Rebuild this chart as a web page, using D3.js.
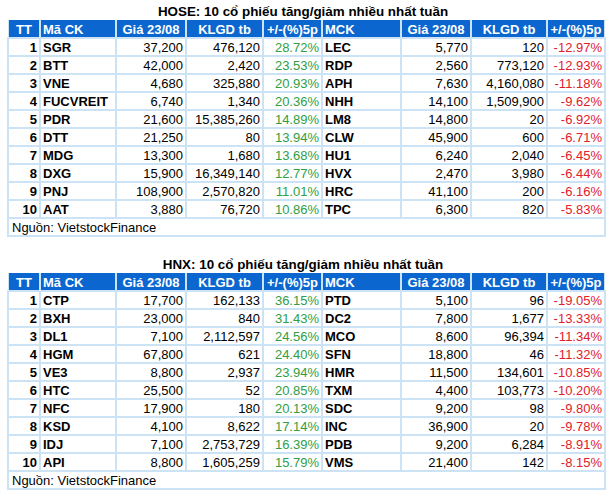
<!DOCTYPE html>
<html>
<head>
<meta charset="utf-8">
<script src="https://cdn.jsdelivr.net/npm/d3@7"></script>
<style>
  html, body { margin: 0; padding: 0; background: #fff; }
  svg { display: block; font-family: Arial, "Liberation Sans", sans-serif; }
</style>
</head>
<body>
<svg id="chart" width="612" height="497"></svg>
<script>
// ---------- DATA ----------
const headers = ["TT", "Mã CK", "Giá 23/08", "KLGD tb", "+/-(%)5p", "MCK", "Giá 23/08", "KLGD tb", "+/-(%)5p"];
const ranks = [1, 2, 3, 4, 5, 6, 7, 8, 9, 10];

const hoseTitle = "HOSE: 10 cổ phiếu tăng/giảm nhiều nhất tuần";
const hoseUpCodes = ["SGR", "BTT", "VNE", "FUCVREIT", "PDR", "DTT", "MDG", "DXG", "PNJ", "AAT"];
const hoseUpPrice = [37200, 42000, 4680, 6740, 21600, 21250, 13300, 15900, 108900, 3880];
const hoseUpVol = [476120, 2420, 325880, 1340, 15385260, 80, 1680, 16349140, 2570820, 76720];
const hoseUpPct = [28.72, 23.53, 20.93, 20.36, 14.89, 13.94, 13.68, 12.77, 11.01, 10.86];
const hoseDownCodes = ["LEC", "RDP", "APH", "NHH", "LM8", "CLW", "HU1", "HVX", "HRC", "TPC"];
const hoseDownPrice = [5770, 2560, 7630, 14100, 14800, 45900, 6240, 2470, 41100, 6300];
const hoseDownVol = [120, 773120, 4160080, 1509900, 20, 600, 2040, 3980, 200, 820];
const hoseDownPct = [-12.97, -12.93, -11.18, -9.62, -6.92, -6.71, -6.45, -6.44, -6.16, -5.83];

const hnxTitle = "HNX: 10 cổ phiếu tăng/giảm nhiều nhất tuần";
const hnxUpCodes = ["CTP", "BXH", "DL1", "HGM", "VE3", "HTC", "NFC", "KSD", "IDJ", "API"];
const hnxUpPrice = [17700, 23000, 7100, 67800, 8800, 25500, 17900, 4100, 7100, 8800];
const hnxUpVol = [162133, 840, 2112597, 621, 2937, 52, 180, 8622, 2753729, 1605259];
const hnxUpPct = [36.15, 31.43, 24.56, 24.40, 23.94, 20.85, 20.13, 17.14, 16.39, 15.79];
const hnxDownCodes = ["PTD", "DC2", "MCO", "SFN", "HMR", "TXM", "SDC", "INC", "PDB", "VMS"];
const hnxDownPrice = [5100, 7800, 8600, 18800, 11500, 4400, 9200, 36900, 9200, 21400];
const hnxDownVol = [96, 1677, 96394, 46, 134601, 103773, 98, 20, 6284, 142];
const hnxDownPct = [-19.05, -13.33, -11.34, -11.32, -10.85, -10.20, -9.80, -9.78, -8.91, -8.15];

const sourceText = "Nguồn: VietstockFinance";

// ---------- LAYOUT ----------
const W = 612, H = 497;
const colEdges = [8, 40, 116, 186, 263, 322, 401, 471, 547, 605];
const colAlign = ["end", "start", "end", "end", "end", "start", "end", "end", "end"];
const colBold = [true, true, false, false, false, true, false, false, false];
const headAlign = ["middle", "start", "middle", "middle", "middle", "start", "middle", "middle", "middle"];
const C = {
  head: "#0b67cf",
  grid: "#cce3f6",
  green: "#2f9e45",
  red: "#e0202b",
  text: "#000"
};
const locale = d3.formatLocale({ decimal: ".", thousands: ",", grouping: [3], currency: ["", ""], minus: "-" });
const fmtInt = locale.format(",");
const fmtPct = d => locale.format(".2f")(d) + "%";

const svg = d3.select("#chart");
svg.append("rect").attr("width", W).attr("height", H).attr("fill", "#fff");

const colIdx = d3.range(headers.length);
const xLeft = d3.scaleOrdinal().domain(colIdx).range(colEdges.slice(0, -1));
const xRight = d3.scaleOrdinal().domain(colIdx).range(colEdges.slice(1));

function drawTable(top, title, up, down) {
  const g = svg.append("g");
  const rowH = 18;
  // rows: 0 = header, 1..10 = data, 11 = footer
  const y = d3.scaleBand().domain(d3.range(12)).range([top, top + 12 * rowH]).padding(0);

  // title
  g.append("text")
    .attr("x", 303)
    .attr("y", top - 4)
    .attr("text-anchor", "middle")
    .attr("font-size", 13.4).attr("font-weight", "bold").attr("fill", C.text)
    .text(title);

  // grid background
  g.append("rect")
    .attr("x", colEdges[0] - 1).attr("y", y(1) - 1)
    .attr("width", colEdges[colEdges.length - 1] - colEdges[0] + 2)
    .attr("height", y(11) + rowH - y(1) + 2)
    .attr("fill", C.grid);
  g.append("rect")
    .attr("x", colEdges[0]).attr("y", y(0))
    .attr("width", colEdges[colEdges.length - 1] - colEdges[0])
    .attr("height", rowH)
    .attr("fill", C.grid);

  // header cells
  g.selectAll(".hc").data(colIdx).join("rect")
    .attr("x", i => xLeft(i) + 1).attr("y", y(0))
    .attr("width", i => xRight(i) - xLeft(i) - 2).attr("height", rowH - 1)
    .attr("fill", C.head);
  g.selectAll(".ht").data(colIdx).join("text")
    .attr("x", i => headAlign[i] === "middle" ? (xLeft(i) + xRight(i)) / 2 : xLeft(i) + 3)
    .attr("y", y(0) + rowH / 2)
    .attr("dy", "0.36em")
    .attr("text-anchor", i => headAlign[i])
    .attr("font-size", 13).attr("font-weight", "bold").attr("fill", "#fff")
    .text(i => headers[i]);

  // data rows
  const rows = ranks.map((r, k) => [
    { v: String(r) },
    { v: up.codes[k] },
    { v: fmtInt(up.price[k]) },
    { v: fmtInt(up.vol[k]) },
    { v: fmtPct(up.pct[k]), c: C.green },
    { v: down.codes[k] },
    { v: fmtInt(down.price[k]) },
    { v: fmtInt(down.vol[k]) },
    { v: fmtPct(down.pct[k]), c: C.red }
  ]);

  rows.forEach((cells, k) => {
    const ry = y(k + 1);
    const rg = g.append("g");
    rg.selectAll("rect").data(cells).join("rect")
      .attr("x", (d, i) => xLeft(i) + 1).attr("y", ry + 1)
      .attr("width", (d, i) => xRight(i) - xLeft(i) - 2).attr("height", rowH - 2)
      .attr("fill", "#fff");
    rg.selectAll("text").data(cells).join("text")
      .attr("x", (d, i) => colAlign[i] === "end" ? xRight(i) - 3 : xLeft(i) + 3)
      .attr("y", ry + rowH / 2)
      .attr("dy", "0.36em")
      .attr("text-anchor", (d, i) => colAlign[i])
      .attr("font-size", 13)
      .attr("font-weight", (d, i) => colBold[i] ? "bold" : "normal")
      .attr("fill", d => d.c || C.text)
      .text(d => d.v);
  });

  // footer
  const fy = y(11);
  g.append("rect")
    .attr("x", colEdges[0] + 1).attr("y", fy + 1)
    .attr("width", colEdges[colEdges.length - 1] - colEdges[0] - 2).attr("height", rowH - 2)
    .attr("fill", "#fff");
  g.append("text")
    .attr("x", colEdges[0] + 4).attr("y", fy + rowH / 2)
    .attr("dy", "0.36em")
    .attr("font-size", 13).attr("fill", C.text)
    .text(sourceText);
}

drawTable(20, hoseTitle,
  { codes: hoseUpCodes, price: hoseUpPrice, vol: hoseUpVol, pct: hoseUpPct },
  { codes: hoseDownCodes, price: hoseDownPrice, vol: hoseDownVol, pct: hoseDownPct });
drawTable(273, hnxTitle,
  { codes: hnxUpCodes, price: hnxUpPrice, vol: hnxUpVol, pct: hnxUpPct },
  { codes: hnxDownCodes, price: hnxDownPrice, vol: hnxDownVol, pct: hnxDownPct });
</script>
</body>
</html>
